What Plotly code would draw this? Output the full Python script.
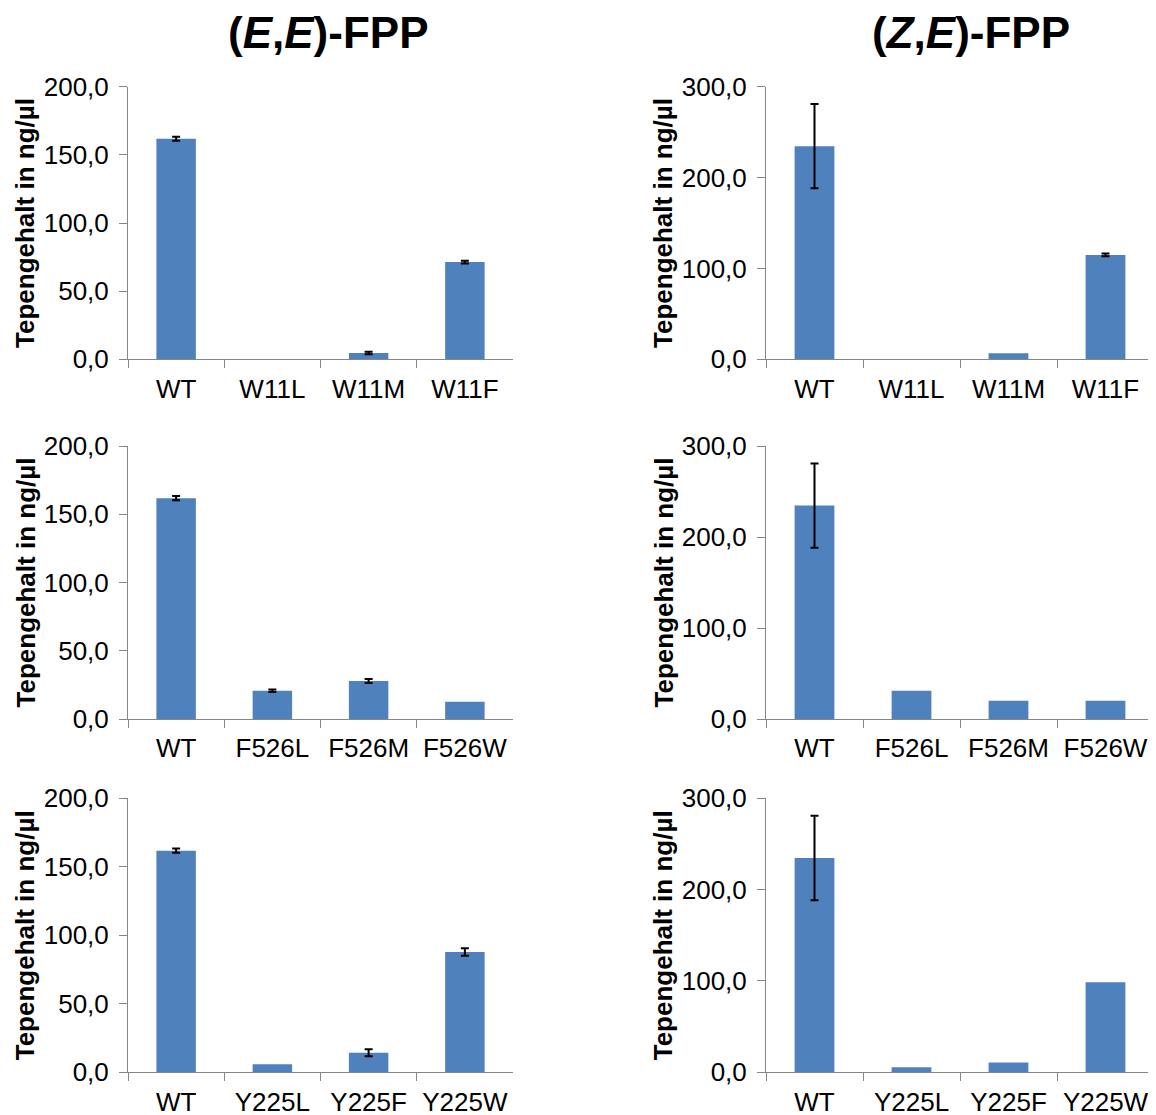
import plotly.graph_objects as go

# The page body adds an 8px margin; figure coordinates = reference pixels - 8
OFFX, OFFY = 8, 8
W, H = 1148, 1107

# ---- data ----
ee_wt, ee_wt_err = 161.8, 1.5
ze_wt, ze_wt_err = 234.6, 46.3

cats_w11 = ["WT", "W11L", "W11M", "W11F"]
ee_w11 = [ee_wt, 0.0, 4.6, 71.3]
ee_w11_err = [ee_wt_err, None, 0.9, 1.0]
ze_w11 = [ze_wt, 0.0, 6.6, 114.8]
ze_w11_err = [ze_wt_err, None, None, 1.5]

cats_f526 = ["WT", "F526L", "F526M", "F526W"]
ee_f526 = [ee_wt, 20.7, 27.8, 12.7]
ee_f526_err = [ee_wt_err, 1.0, 1.5, None]
ze_f526 = [ze_wt, 31.1, 20.1, 20.1]
ze_f526_err = [ze_wt_err, None, None, None]

cats_y225 = ["WT", "Y225L", "Y225F", "Y225W"]
ee_y225 = [ee_wt, 5.8, 14.3, 87.8]
ee_y225_err = [ee_wt_err, None, 2.5, 2.7]
ze_y225 = [ze_wt, 5.5, 10.6, 98.5]
ze_y225_err = [ze_wt_err, None, None, None]

titles = ["<b>(<i>E</i>,<i>E</i>)-FPP</b>", "<b>(<i>Z</i>,<i>E</i>)-FPP</b>"]
ytitle = "<b>Tepengehalt in ng/µl</b>"

# ---- layout geometry (reference pixels) ----
col_x = [(128, 513), (766, 1154)]
row_y = [(86.7, 359.3), (446, 719), (798.3, 1072.3)]

panels = [
    (0, 0, cats_w11, ee_w11, ee_w11_err, 200, 50),
    (0, 1, cats_w11, ze_w11, ze_w11_err, 300, 100),
    (1, 0, cats_f526, ee_f526, ee_f526_err, 200, 50),
    (1, 1, cats_f526, ze_f526, ze_f526_err, 300, 100),
    (2, 0, cats_y225, ee_y225, ee_y225_err, 200, 50),
    (2, 1, cats_y225, ze_y225, ze_y225_err, 300, 100),
]

FONT = "Liberation Sans, Arial, sans-serif"
AXCOL = "#868686"
BAR = "#4F81BD"


def px(x):
    return min(1.0, max(0.0, (x - OFFX) / W))


def py(y):
    return min(1.0, max(0.0, 1 - (y - OFFY) / H))


fig = go.Figure()
layout = dict(
    template="none",
    width=W, height=H,
    margin=dict(l=0, r=0, t=0, b=0, pad=0, autoexpand=False),
    paper_bgcolor="white", plot_bgcolor="white",
    showlegend=False,
    separators=",.",
    font=dict(family=FONT, color="black"),
)
annotations = []

for i, (r, c, cats, vals, errs, ymax, dt) in enumerate(panels):
    n = i + 1
    xa = "x" if n == 1 else f"x{n}"
    ya = "y" if n == 1 else f"y{n}"
    fig.add_trace(go.Bar(
        x=cats, y=vals, xaxis=xa, yaxis=ya, width=0.41,
        marker=dict(color=BAR, line=dict(width=0)),
        hoverinfo="x+y",
    ))
    ex = [cats[k] for k in range(4) if errs[k] is not None]
    ey = [vals[k] for k in range(4) if errs[k] is not None]
    ee = [errs[k] for k in range(4) if errs[k] is not None]
    fig.add_trace(go.Scatter(
        x=ex, y=ey, xaxis=xa, yaxis=ya, mode="markers",
        marker=dict(size=1, opacity=0),
        error_y=dict(type="data", array=ee, visible=True, color="black",
                     thickness=2, width=4),
        hoverinfo="skip",
    ))
    x0, x1 = col_x[c]
    y0, y1 = row_y[r]
    layout[f"xaxis{'' if n == 1 else n}"] = dict(
        domain=[px(x0), px(x1)], anchor=ya, type="category", automargin=False,
        range=[-0.5, 3.5], showline=True, linecolor=AXCOL, linewidth=1,
        ticks="outside", tickson="boundaries", ticklen=8, tickcolor=AXCOL,
        tickfont=dict(size=26, family=FONT, color="black"),
        ticklabelstandoff=6, showgrid=False, zeroline=False,
    )
    layout[f"yaxis{'' if n == 1 else n}"] = dict(
        domain=[py(y1), py(y0)], anchor=xa, automargin=False,
        range=[0, ymax], dtick=dt, tick0=0, tickformat=".1f",
        showline=True, linecolor=AXCOL, linewidth=1,
        ticks="outside", ticklen=8, tickcolor=AXCOL,
        tickfont=dict(size=26, family=FONT, color="black"),
        ticklabelstandoff=5, showgrid=False, zeroline=False,
    )
    annotations.append(dict(
        text=ytitle, xref="paper", yref="paper",
        x=px(x0 - 103), y=py((y0 + y1) / 2),
        xanchor="center", yanchor="middle", textangle=-90, showarrow=False,
        font=dict(size=26, family=FONT, color="black"),
    ))

for c, cx in enumerate([328, 971]):
    annotations.append(dict(
        text=titles[c], xref="paper", yref="paper",
        x=px(cx), y=py(32), xanchor="center", yanchor="middle",
        showarrow=False, font=dict(size=44, family=FONT, color="black"),
    ))

layout["annotations"] = annotations
fig.update_layout(**layout)
fig.write_html("out.html")
